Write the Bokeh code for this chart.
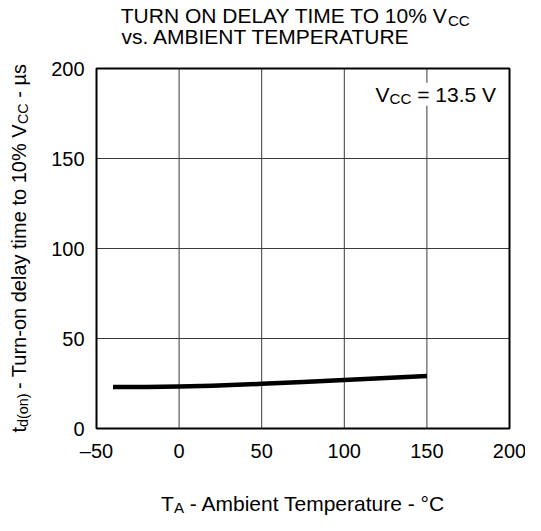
import math
from bokeh.plotting import figure
from bokeh.models import Range1d, Label
from bokeh.core.properties import value
from bokeh.embed import file_html
from bokeh.resources import INLINE

# ---- data ----
temp_c = [-40, -20, 0, 20, 50, 75, 100, 125, 150]
delay_us = [23.0, 23.1, 23.3, 23.7, 24.8, 25.8, 26.9, 28.0, 29.1]
x_ticks = [-50, 0, 50, 100, 150, 200]
x_tick_labels = ["\u201350", "0", "50", "100", "150", "200"]
y_ticks = [0, 50, 100, 150, 200]
y_tick_labels = ["0", "50", "100", "150", "200"]

title_line1 = [("TURN ON DELAY TIME TO 10% V", False), ("CC", True)]
title_line2 = [("vs. AMBIENT TEMPERATURE", False)]
x_title = [("T", False), ("A", True), (" - Ambient Temperature - \u00b0C", False)]
y_title = [("t", False), ("d(on)", True), (" - Turn-on delay time to 10% V", False),
           ("CC", True), (" - \u00b5s", False)]
note = [("V", False), ("CC", True), (" = 13.5 V", False)]

FONT = "Liberation Sans"

# Arial / Liberation Sans advance widths (1/1000 em)
W = {" ": 278, "\u00a0": 278, "-": 333, ".": 278, "%": 889, "=": 584, "(": 333, ")": 333,
     "\u00b0": 400, "\u00b5": 556, "\u2013": 556,
     "A": 667, "B": 667, "C": 722, "D": 722, "E": 667, "F": 611, "G": 778, "H": 722,
     "I": 278, "J": 500, "K": 667, "L": 556, "M": 833, "N": 722, "O": 778, "P": 667,
     "Q": 778, "R": 722, "S": 667, "T": 611, "U": 722, "V": 667, "W": 944, "X": 667,
     "Y": 667, "Z": 611,
     "a": 556, "b": 556, "c": 500, "d": 556, "e": 556, "f": 278, "g": 556, "h": 556,
     "i": 222, "j": 222, "k": 500, "l": 222, "m": 833, "n": 556, "o": 556, "p": 556,
     "q": 556, "r": 333, "s": 500, "t": 278, "u": 556, "v": 500, "w": 722, "x": 500,
     "y": 500, "z": 500}
KERN = {("A", "Y"): -74, (" ", "T"): -18, ("T", "O"): -18, ("1", "1"): -74,
        (" ", "A"): -55, ("A", " "): -55, ("T", "e"): -74, ("T", "u"): -74}


def tw(s, size):
    w = sum(W.get(c, 556) for c in s)
    w += sum(KERN.get((a, b), 0) for a, b in zip(s, s[1:]))
    return w * size / 1000.0


# ---- layout (pixels) ----
CW, CH = 525, 515                 # canvas
PL, PW = 96, 413                  # plot area left, width
PT, PH = 68, 360                  # plot area top, height
PB = CH - PT - PH                 # space below plot area

x0, x1 = x_ticks[0], x_ticks[-1]
y0, y1 = y_ticks[0], y_ticks[-1]
XS = PW / (x1 - x0)               # px per x unit
YS = PH / (y1 - y0)               # px per y unit

p = figure(width=CW, height=CH, min_border=0, title=None,
           x_range=Range1d(x0 - PL / XS, x1 + (CW - PL - PW) / XS),
           y_range=Range1d(y0 - PB / YS, y1 + PT / YS),
           x_axis_type=None, y_axis_type=None,
           output_backend="svg", toolbar_location=None,
           background_fill_color="white", border_fill_color="white")
p.outline_line_color = None
p.grid.visible = False

# grid lines
p.segment(x0=x_ticks, x1=x_ticks, y0=[y0] * len(x_ticks), y1=[y1] * len(x_ticks),
          line_color="#3a3a3a", line_width=1)
p.segment(x0=[x0] * len(y_ticks), x1=[x1] * len(y_ticks), y0=y_ticks, y1=y_ticks,
          line_color="#3a3a3a", line_width=1)
# frame
p.quad(left=[x0], right=[x1], bottom=[y0], top=[y1], fill_color=None,
       line_color="black", line_width=2)

# data curve
p.line(temp_c, delay_us, line_color="black", line_width=4.5, line_cap="butt",
       line_join="round")

# tick labels
p.text(x=x_ticks, y=[y0 - 22 / YS] * len(x_ticks), text=x_tick_labels,
       text_font=value(FONT), text_font_size=value("20px"), text_color="black",
       text_align="center", text_baseline="middle")
p.text(x=[x0 - 12 / XS] * len(y_ticks), y=y_ticks, text=y_tick_labels,
       text_font=value(FONT), text_font_size=value("20px"), text_color="black",
       text_align="right", text_baseline="middle")


def nb(s):
    # keep leading / trailing spaces visible in SVG text
    n_lead = len(s) - len(s.lstrip(" "))
    n_trail = len(s) - len(s.rstrip(" "))
    core = s.strip(" ")
    return "\u00a0" * n_lead + core + "\u00a0" * n_trail


def rich(parts, x, y, size, angle=0.0, align="left", bg=None):
    """parts positioned in screen px relative to the plot area's left/bottom."""
    x = x + PL
    y = y + PB
    sub_size = size * 0.72
    shift = size * 0.2
    widths = [tw(t, sub_size if s else size) for t, s in parts]
    total = sum(widths)
    if angle == 0:
        pos = x - total / 2 if align == "center" else x
    else:
        pos = y - total / 2 if align == "center" else y
    for i, ((t, s), w) in enumerate(zip(parts, widths)):
        fs = sub_size if s else size
        # a normal segment followed by a subscript is anchored at its end,
        # so that the subscript always touches it
        right = (not s) and i + 1 < len(parts) and parts[i + 1][1]
        a = pos + w if right else pos
        if angle == 0:
            lx, ly = a, y - (shift if s else 0)
        else:
            lx, ly = x + (shift if s else 0), a
        kw = {}
        if bg:
            kw = dict(background_fill_color=bg, background_fill_alpha=1)
        p.add_layout(Label(x=lx, y=ly, x_units="screen", y_units="screen",
                           text=nb(t), angle=angle, text_font=FONT,
                           text_font_size=f"{fs:.1f}px", text_color="black",
                           text_align="right" if right else "left",
                           text_baseline="alphabetic", **kw))
        pos += w


rich(title_line1, 25, 412.7, 21)
rich(title_line2, 25, 392, 21)
rich(x_title, PW / 2, -75, 21, align="center")
rich(y_title, -78, PH / 2, 20, angle=math.pi / 2, align="center")
rich(note, 279, 334.3, 21, bg="white")

open("out.html", "w").write(file_html(p, INLINE))
